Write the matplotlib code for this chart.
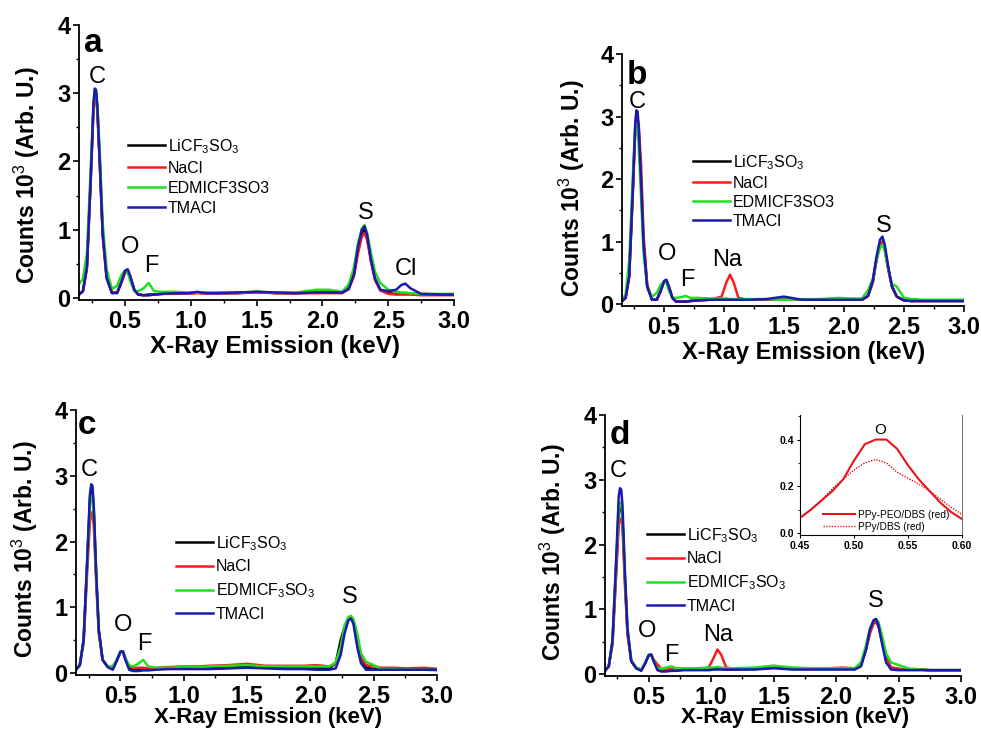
import matplotlib
matplotlib.use("Agg")
import matplotlib.pyplot as plt
from matplotlib.ticker import MultipleLocator, FormatStrFormatter

plt.rcParams['font.family'] = ['Liberation Sans', 'DejaVu Sans']
plt.rcParams['mathtext.fontset'] = 'custom'
plt.rcParams['mathtext.rm'] = 'Liberation Sans'
plt.rcParams['mathtext.it'] = 'Liberation Sans:italic'
plt.rcParams['mathtext.bf'] = 'Liberation Sans:bold'

# ---------------- data ----------------
energy = [0.15, 0.18, 0.21, 0.24, 0.26, 0.27, 0.28, 0.29, 0.31, 0.33,
          0.36, 0.40, 0.44, 0.47, 0.50, 0.52, 0.54, 0.57, 0.60, 0.64,
          0.68, 0.72, 0.78, 0.88, 0.98, 1.02, 1.05, 1.08, 1.12, 1.20,
          1.35, 1.50, 1.65, 1.80, 1.95, 2.05, 2.15, 2.20, 2.24, 2.27,
          2.30, 2.32, 2.34, 2.37, 2.40, 2.44, 2.50, 2.56, 2.60, 2.63,
          2.67, 2.75, 2.90, 3.00]

series_names_ab = ["LiCF$_3$SO$_3$", "NaCl", "EDMICF3SO3", "TMACl"]
series_names_cd = ["LiCF$_3$SO$_3$", "NaCl", "EDMICF$_3$SO$_3$", "TMACl"]

a_black = [0.05, 0.10, 0.45, 1.80, 2.80, 3.00, 3.00, 2.75, 1.90, 0.95,
           0.30, 0.08, 0.08, 0.22, 0.38, 0.40, 0.30, 0.12, 0.05, 0.04,
           0.05, 0.05, 0.06, 0.07, 0.07, 0.07, 0.08, 0.07, 0.07, 0.07,
           0.07, 0.09, 0.07, 0.07, 0.08, 0.08, 0.08, 0.15, 0.35, 0.70,
           0.95, 1.00, 0.88, 0.55, 0.28, 0.12, 0.07, 0.06, 0.06, 0.06,
           0.06, 0.05, 0.05, 0.05]
a_red = [0.05, 0.10, 0.43, 1.75, 2.75, 2.95, 2.95, 2.70, 1.85, 0.90,
         0.28, 0.08, 0.08, 0.22, 0.37, 0.38, 0.30, 0.12, 0.05, 0.04,
         0.04, 0.05, 0.06, 0.06, 0.07, 0.07, 0.07, 0.07, 0.07, 0.07,
         0.07, 0.08, 0.07, 0.07, 0.07, 0.07, 0.07, 0.13, 0.32, 0.65,
         0.90, 0.95, 0.85, 0.52, 0.26, 0.11, 0.06, 0.05, 0.05, 0.05,
         0.05, 0.04, 0.04, 0.04]
a_green = [0.20, 0.28, 0.65, 1.95, 2.85, 3.05, 3.00, 2.80, 2.05, 1.10,
           0.42, 0.13, 0.18, 0.33, 0.40, 0.38, 0.25, 0.10, 0.10, 0.14,
           0.22, 0.10, 0.09, 0.09, 0.08, 0.08, 0.08, 0.08, 0.08, 0.08,
           0.08, 0.09, 0.08, 0.08, 0.12, 0.12, 0.09, 0.20, 0.45, 0.80,
           1.02, 1.07, 0.95, 0.65, 0.38, 0.22, 0.12, 0.09, 0.08, 0.08,
           0.07, 0.06, 0.06, 0.06]
a_blue = [0.05, 0.10, 0.45, 1.80, 2.85, 3.07, 3.05, 2.80, 1.90, 0.95,
          0.30, 0.07, 0.07, 0.22, 0.40, 0.42, 0.32, 0.12, 0.05, 0.04,
          0.04, 0.05, 0.06, 0.07, 0.07, 0.08, 0.09, 0.08, 0.07, 0.07,
          0.08, 0.09, 0.08, 0.07, 0.08, 0.08, 0.08, 0.13, 0.35, 0.75,
          1.00, 1.05, 0.92, 0.55, 0.28, 0.12, 0.10, 0.12, 0.19, 0.21,
          0.14, 0.06, 0.05, 0.05]

b_black = [0.05, 0.10, 0.45, 1.80, 2.80, 3.05, 3.00, 2.75, 1.90, 0.95,
           0.28, 0.07, 0.07, 0.20, 0.36, 0.38, 0.28, 0.10, 0.04, 0.04,
           0.04, 0.05, 0.06, 0.07, 0.07, 0.07, 0.07, 0.07, 0.07, 0.07,
           0.07, 0.09, 0.07, 0.07, 0.07, 0.07, 0.07, 0.13, 0.35, 0.70,
           0.95, 1.00, 0.88, 0.55, 0.28, 0.12, 0.06, 0.05, 0.05, 0.05,
           0.05, 0.05, 0.05, 0.05]
b_red = [0.05, 0.10, 0.43, 1.75, 2.75, 3.00, 2.95, 2.85, 2.20, 1.10,
         0.32, 0.07, 0.07, 0.20, 0.36, 0.38, 0.28, 0.10, 0.04, 0.04,
         0.04, 0.05, 0.06, 0.07, 0.12, 0.35, 0.47, 0.35, 0.10, 0.07,
         0.07, 0.08, 0.07, 0.07, 0.07, 0.07, 0.07, 0.13, 0.35, 0.70,
         0.95, 1.00, 0.88, 0.55, 0.28, 0.12, 0.06, 0.05, 0.05, 0.05,
         0.05, 0.05, 0.05, 0.05]
b_green = [0.08, 0.15, 0.70, 2.05, 2.85, 2.90, 2.80, 2.50, 1.65, 0.80,
           0.28, 0.12, 0.18, 0.30, 0.36, 0.34, 0.22, 0.10, 0.10, 0.11,
           0.13, 0.10, 0.10, 0.09, 0.09, 0.09, 0.08, 0.08, 0.08, 0.08,
           0.08, 0.07, 0.08, 0.08, 0.10, 0.09, 0.09, 0.22, 0.40, 0.70,
           0.90, 0.95, 0.85, 0.55, 0.32, 0.28, 0.10, 0.08, 0.08, 0.07,
           0.07, 0.07, 0.07, 0.07]
b_blue = [0.05, 0.10, 0.45, 1.85, 2.85, 3.10, 3.08, 2.80, 1.90, 0.95,
          0.28, 0.07, 0.07, 0.20, 0.37, 0.39, 0.28, 0.10, 0.04, 0.04,
          0.04, 0.05, 0.06, 0.07, 0.07, 0.07, 0.07, 0.07, 0.07, 0.07,
          0.08, 0.12, 0.07, 0.07, 0.07, 0.07, 0.07, 0.13, 0.38, 0.75,
          1.03, 1.08, 0.95, 0.58, 0.28, 0.12, 0.06, 0.05, 0.05, 0.05,
          0.05, 0.05, 0.05, 0.05]

c_black = [0.05, 0.12, 0.50, 1.75, 2.65, 2.80, 2.75, 2.50, 1.45, 0.65,
           0.20, 0.10, 0.06, 0.18, 0.32, 0.33, 0.22, 0.08, 0.05, 0.05,
           0.05, 0.05, 0.06, 0.07, 0.07, 0.07, 0.07, 0.07, 0.07, 0.07,
           0.08, 0.10, 0.08, 0.08, 0.07, 0.07, 0.07, 0.15, 0.50, 0.70,
           0.83, 0.85, 0.80, 0.55, 0.25, 0.08, 0.06, 0.06, 0.06, 0.06,
           0.06, 0.06, 0.06, 0.06]
c_red = [0.05, 0.12, 0.45, 1.60, 2.30, 2.40, 2.45, 2.25, 1.35, 0.60,
         0.20, 0.10, 0.06, 0.18, 0.32, 0.33, 0.22, 0.10, 0.08, 0.08,
         0.08, 0.07, 0.08, 0.09, 0.10, 0.10, 0.10, 0.10, 0.10, 0.11,
         0.12, 0.14, 0.11, 0.11, 0.11, 0.12, 0.10, 0.15, 0.35, 0.65,
         0.82, 0.85, 0.78, 0.50, 0.25, 0.12, 0.10, 0.08, 0.08, 0.08,
         0.08, 0.07, 0.08, 0.06]
c_green = [0.05, 0.12, 0.50, 1.75, 2.55, 2.70, 2.68, 2.40, 1.45, 0.65,
           0.20, 0.10, 0.10, 0.20, 0.33, 0.33, 0.22, 0.12, 0.10, 0.14,
           0.20, 0.10, 0.08, 0.08, 0.09, 0.10, 0.09, 0.09, 0.09, 0.10,
           0.11, 0.12, 0.10, 0.10, 0.10, 0.10, 0.10, 0.16, 0.40, 0.72,
           0.85, 0.87, 0.82, 0.60, 0.30, 0.17, 0.12, 0.06, 0.06, 0.06,
           0.06, 0.05, 0.05, 0.04]
c_blue = [0.05, 0.12, 0.50, 1.80, 2.72, 2.87, 2.85, 2.55, 1.50, 0.65,
          0.20, 0.09, 0.05, 0.18, 0.32, 0.33, 0.20, 0.05, 0.03, 0.03,
          0.04, 0.04, 0.05, 0.06, 0.06, 0.06, 0.06, 0.06, 0.06, 0.06,
          0.07, 0.08, 0.07, 0.06, 0.06, 0.05, 0.05, 0.07, 0.28, 0.60,
          0.80, 0.83, 0.75, 0.40, 0.15, 0.05, 0.05, 0.05, 0.05, 0.05,
          0.05, 0.05, 0.05, 0.05]

d_black = [0.05, 0.12, 0.50, 1.65, 2.48, 2.60, 2.58, 2.40, 1.45, 0.65,
           0.20, 0.09, 0.06, 0.16, 0.29, 0.30, 0.20, 0.08, 0.05, 0.05,
           0.06, 0.06, 0.07, 0.07, 0.07, 0.08, 0.08, 0.08, 0.07, 0.07,
           0.08, 0.10, 0.08, 0.08, 0.08, 0.08, 0.08, 0.15, 0.40, 0.65,
           0.80, 0.83, 0.75, 0.50, 0.25, 0.10, 0.08, 0.07, 0.07, 0.07,
           0.07, 0.06, 0.06, 0.06]
d_red = [0.05, 0.12, 0.45, 1.55, 2.30, 2.40, 2.40, 2.25, 1.35, 0.60,
         0.20, 0.09, 0.06, 0.16, 0.29, 0.30, 0.22, 0.15, 0.08, 0.07,
         0.08, 0.06, 0.07, 0.07, 0.10, 0.25, 0.38, 0.30, 0.10, 0.08,
         0.09, 0.11, 0.09, 0.09, 0.09, 0.10, 0.09, 0.14, 0.38, 0.62,
         0.78, 0.80, 0.73, 0.48, 0.24, 0.10, 0.08, 0.07, 0.07, 0.07,
         0.07, 0.06, 0.06, 0.06]
d_green = [0.05, 0.12, 0.52, 1.75, 2.55, 2.65, 2.62, 2.45, 1.50, 0.70,
           0.22, 0.10, 0.07, 0.17, 0.30, 0.30, 0.20, 0.09, 0.08, 0.10,
           0.12, 0.09, 0.09, 0.09, 0.10, 0.10, 0.11, 0.10, 0.09, 0.09,
           0.10, 0.13, 0.10, 0.09, 0.09, 0.09, 0.09, 0.18, 0.45, 0.70,
           0.83, 0.85, 0.80, 0.58, 0.32, 0.18, 0.14, 0.10, 0.08, 0.08,
           0.07, 0.06, 0.06, 0.06]
d_blue = [0.05, 0.12, 0.52, 1.80, 2.75, 2.87, 2.85, 2.60, 1.55, 0.70,
          0.20, 0.09, 0.05, 0.16, 0.29, 0.30, 0.20, 0.06, 0.04, 0.04,
          0.05, 0.05, 0.06, 0.06, 0.06, 0.07, 0.07, 0.07, 0.07, 0.07,
          0.07, 0.09, 0.07, 0.07, 0.07, 0.07, 0.07, 0.12, 0.38, 0.68,
          0.83, 0.85, 0.75, 0.45, 0.18, 0.07, 0.06, 0.06, 0.06, 0.06,
          0.06, 0.06, 0.06, 0.06]

inset_energy = [0.45, 0.46, 0.47, 0.48, 0.49, 0.50, 0.51, 0.52,
                0.53, 0.54, 0.55, 0.56, 0.57, 0.58, 0.59, 0.60]
inset_ppy_peo = [0.065, 0.10, 0.14, 0.18, 0.23, 0.31, 0.38, 0.40,
                 0.40, 0.36, 0.29, 0.23, 0.18, 0.13, 0.09, 0.06]
inset_ppy = [0.065, 0.10, 0.14, 0.19, 0.23, 0.27, 0.30, 0.315,
             0.30, 0.26, 0.235, 0.21, 0.18, 0.145, 0.11, 0.08]
inset_names = ["PPy-PEO/DBS (red)", "PPy/DBS (red)"]

colors = ["#000000", "#ff1a1a", "#1fe01f", "#1a1ab0"]

# ---------------- layout ----------------
W, H = 981, 731
fig = plt.figure(figsize=(W / 100, H / 100), dpi=100)


def rect(l, r, t, b):
    return [l / W, 1 - b / H, (r - l) / W, (b - t) / H]


def fx(px):
    return px / W


def fy(py):
    return 1 - py / H


panels = [
    dict(rect=rect(79, 454, 25, 300), data=[a_black, a_red, a_green, a_blue],
         names=series_names_ab, letter="a", letter_px=(93, 43),
         leg=(128, 137), lspace=0.32,
         ylab=(27, 175), xlab=(275, 346), xls=17.5,
         peaks=[("C", 0.285, 3.24), ("O", 0.538, 0.74), ("F", 0.703, 0.47),
                ("S", 2.33, 1.25), ("Cl", 2.635, 0.43)]),
    dict(rect=rect(622, 964, 54, 306), data=[b_black, b_red, b_green, b_blue],
         names=series_names_ab, letter="b", letter_px=(637, 75),
         leg=(693, 153), lspace=0.25,
         ylab=(572, 188), xlab=(804, 352), xls=17,
         peaks=[("C", 0.278, 3.24), ("O", 0.528, 0.80), ("F", 0.695, 0.38),
                ("Na", 1.028, 0.70), ("S", 2.33, 1.25)]),
    dict(rect=rect(76, 437, 410, 675), data=[c_black, c_red, c_green, c_blue],
         names=series_names_cd, letter="c", letter_px=(87, 425),
         leg=(176, 534), lspace=0.42,
         ylab=(25, 549), xlab=(268, 717), xls=16,
         peaks=[("C", 0.252, 3.08), ("O", 0.52, 0.73), ("F", 0.69, 0.44),
                ("S", 2.31, 1.16)]),
    dict(rect=rect(605, 961, 415, 676), data=[d_black, d_red, d_green, d_blue],
         names=series_names_cd, letter="d", letter_px=(620, 435),
         leg=(647, 526), lspace=0.42,
         ylab=(553, 552), xlab=(795, 717), xls=16,
         peaks=[("C", 0.259, 3.13), ("O", 0.49, 0.66), ("F", 0.68, 0.30),
                ("Na", 1.056, 0.61), ("S", 2.32, 1.13)]),
]

for p in panels:
    ax = fig.add_axes(p["rect"])
    for ys, col, name in zip(p["data"], colors, p["names"]):
        ax.plot(energy, ys, color=col, lw=1.8, label=name)
    ax.set_xlim(0.15, 3.0)
    ax.set_ylim(-0.03, 4)
    ax.spines["top"].set_visible(False)
    ax.spines["right"].set_visible(False)
    for s in ("left", "bottom"):
        ax.spines[s].set_linewidth(1.3)
    ax.xaxis.set_major_locator(MultipleLocator(0.5))
    ax.xaxis.set_minor_locator(MultipleLocator(0.25))
    ax.xaxis.set_major_formatter(FormatStrFormatter("%.1f"))
    ax.yaxis.set_major_locator(MultipleLocator(1))
    ax.yaxis.set_minor_locator(MultipleLocator(0.5))
    ax.tick_params(axis="both", which="major", direction="out", length=4,
                   width=1.2, labelsize=17)
    ax.tick_params(axis="both", which="minor", direction="out", length=2.5,
                   width=1.0)
    ax.tick_params(axis="x", which="major", pad=3)
    ax.tick_params(axis="y", which="major", pad=2)
    for lab in ax.get_xticklabels() + ax.get_yticklabels():
        lab.set_fontweight("bold")

    for txt, xv, yv in p["peaks"]:
        ax.text(xv, yv, txt, ha="center", va="center", fontsize=17)

    fig.text(fx(p["letter_px"][0]), fy(p["letter_px"][1]), p["letter"],
             ha="center", va="center", fontsize=24, fontweight="bold")
    fig.text(fx(p["ylab"][0]), fy(p["ylab"][1]), "Counts 10$^3$ (Arb. U.)",
             rotation=90, ha="center", va="center", fontsize=16.5,
             fontweight="bold")
    fig.text(fx(p["xlab"][0]), fy(p["xlab"][1]), "X-Ray Emission (keV)",
             ha="center", va="center", fontsize=p["xls"], fontweight="bold")

    ax.legend(loc="upper left", bbox_to_anchor=(fx(p["leg"][0]), fy(p["leg"][1])),
              bbox_transform=fig.transFigure, frameon=False, fontsize=11.5,
              handlelength=2.3, handletextpad=0.2, labelspacing=p["lspace"],
              borderpad=0, borderaxespad=0)

# ---------------- inset in panel d ----------------
ins = fig.add_axes(rect(800, 962, 415, 535))
ins.plot(inset_energy, inset_ppy_peo, color="#e8141b", lw=1.5, label=inset_names[0])
ins.plot(inset_energy, inset_ppy, color="#e8141b", lw=1.0, ls=(0, (1, 1)),
         label=inset_names[1])
ins.set_xlim(0.45, 0.60)
ins.set_ylim(-0.008, 0.505)
ins.spines["top"].set_visible(False)
ins.spines["right"].set_color("#777777")
ins.xaxis.set_major_locator(MultipleLocator(0.05))
ins.xaxis.set_major_formatter(FormatStrFormatter("%.2f"))
ins.yaxis.set_major_locator(MultipleLocator(0.2))
ins.yaxis.set_minor_locator(MultipleLocator(0.1))
ins.yaxis.set_major_formatter(FormatStrFormatter("%.1f"))
ins.tick_params(axis="both", which="major", direction="out", length=2.5,
                width=0.8, labelsize=7.5, pad=2)
ins.tick_params(axis="both", which="minor", direction="out", length=1.5,
                width=0.6)
for lab in ins.get_xticklabels() + ins.get_yticklabels():
    lab.set_fontweight("bold")
ins.text(0.524, 0.443, "O", ha="center", va="center", fontsize=11)
ins.legend(loc="upper left", bbox_to_anchor=(fx(823), fy(510)),
           bbox_transform=fig.transFigure, frameon=False, fontsize=7.3,
           handlelength=3.2, handletextpad=0.3, labelspacing=0.15,
           borderpad=0, borderaxespad=0)

fig.savefig("out.png", dpi=100)
